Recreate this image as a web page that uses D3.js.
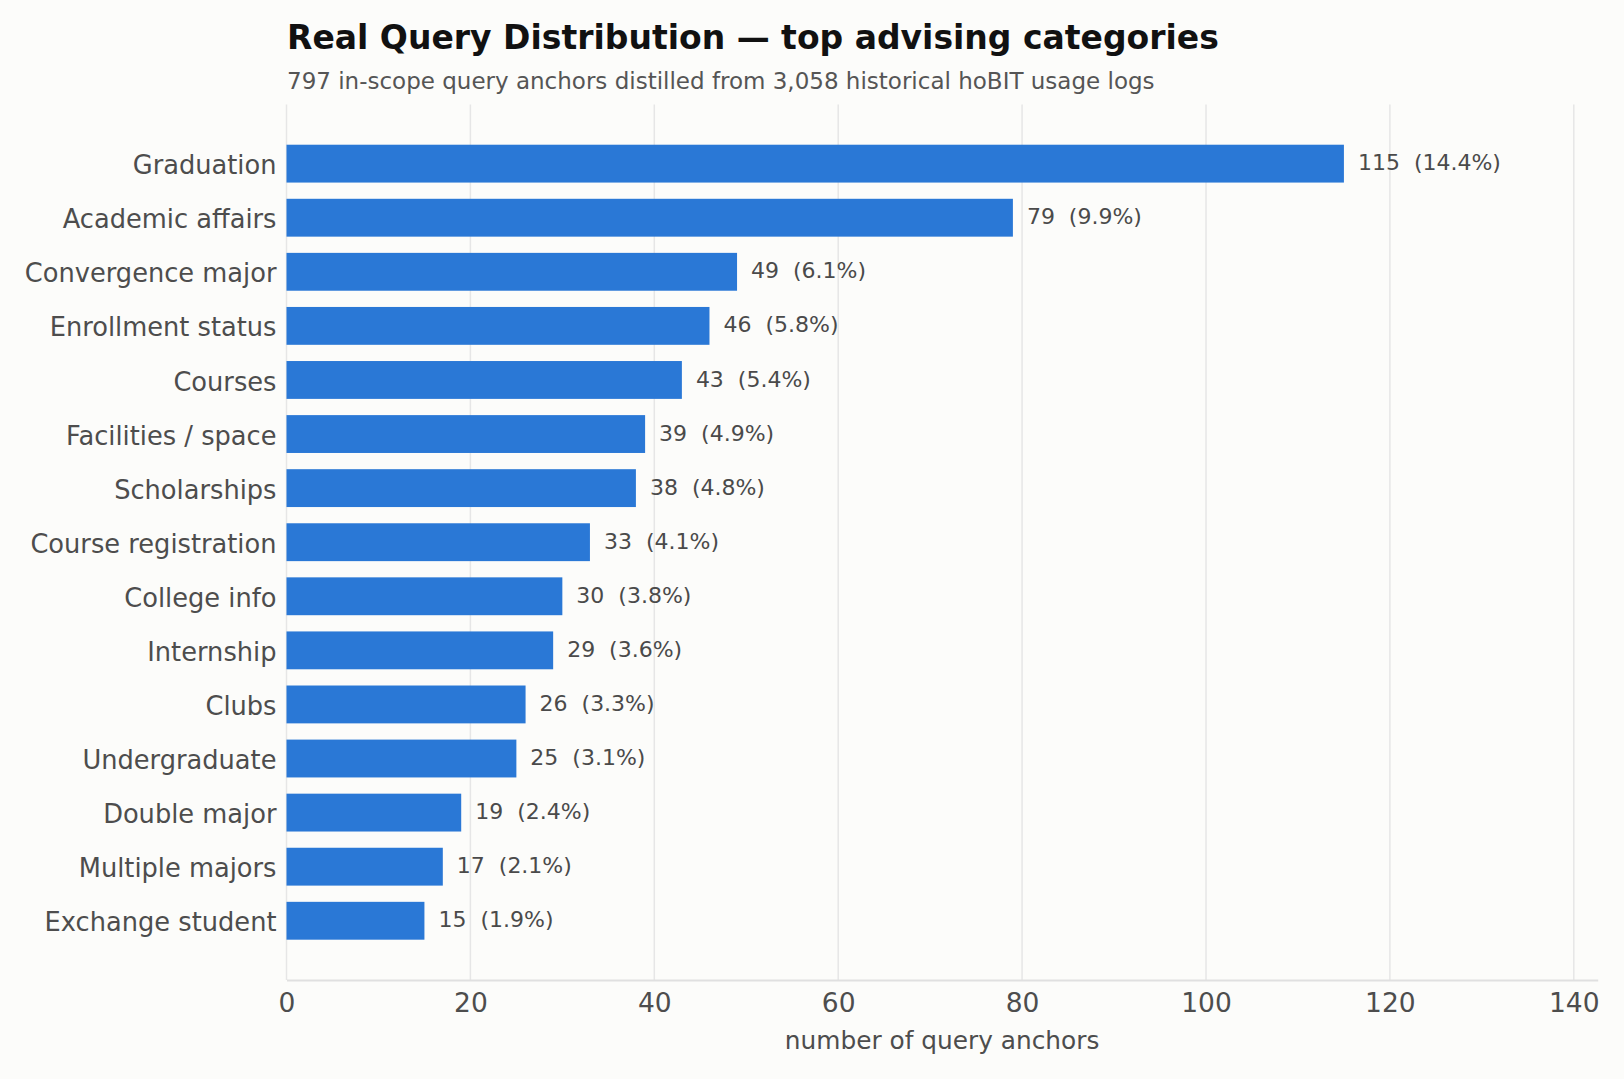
<!DOCTYPE html>
<html>
<head>
<meta charset="utf-8">
<script src="https://d3js.org/d3.v7.min.js"></script>
<title>Real Query Distribution</title>
<style>
  body { margin: 0; background: #fcfcfa; }
  svg { display: block; font-family: "DejaVu Sans", sans-serif; }
</style>
</head>
<body>
<script>

// data
var categories = ["Graduation", "Academic affairs", "Convergence major", "Enrollment status",
  "Courses", "Facilities / space", "Scholarships", "Course registration", "College info",
  "Internship", "Clubs", "Undergraduate", "Double major", "Multiple majors", "Exchange student"];
var counts = [115, 79, 49, 46, 43, 39, 38, 33, 30, 29, 26, 25, 19, 17, 15];
var shares = ["14.4", "9.9", "6.1", "5.8", "5.4", "4.9", "4.8", "4.1", "3.8", "3.6", "3.3", "3.1", "2.4", "2.1", "1.9"];
var xTicks = [0, 20, 40, 60, 80, 100, 120, 140];

var width = 1624,
    height = 1079;

var plot = { left: 286.5, right: 1597.7, top: 104.6, bottom: 980 };

var svg = d3.select("body")
  .append("svg")
  .attr("width", width)
  .attr("height", height);

svg.append("rect")
  .attr("width", width)
  .attr("height", height)
  .attr("fill", "#fcfcfa");

var x = d3.scaleLinear()
    .domain([0, 142.6])
    .range([plot.left, plot.right]);

var y = d3.scaleBand()
    .domain(categories)
    .range([136.6, 947.8])
    .paddingInner(0.3)
    .paddingOuter(0.15);

// vertical grid
svg.append("g")
  .selectAll("line")
  .data(xTicks)
  .enter()
  .append("line")
  .attr("x1", function(d) { return x(d); })
  .attr("x2", function(d) { return x(d); })
  .attr("y1", plot.top)
  .attr("y2", plot.bottom)
  .attr("stroke", "#e6e6e6")
  .attr("stroke-width", 1.5);

// bars
var rows = categories.map(function(c, i) {
  return { name: c, value: counts[i], share: shares[i] };
});

svg.append("g")
  .selectAll("rect")
  .data(rows)
  .enter()
  .append("rect")
  .attr("x", x(0))
  .attr("y", function(d) { return y(d.name); })
  .attr("width", function(d) { return x(d.value) - x(0); })
  .attr("height", y.bandwidth())
  .attr("fill", "#2a78d6");

// value labels
svg.append("g")
  .selectAll("text")
  .data(rows)
  .enter()
  .append("text")
  .attr("x", function(d) { return x(d.value) + 14; })
  .attr("y", function(d) { return y(d.name) + y.bandwidth() / 2; })
  .attr("dy", "0.3em")
  .attr("font-size", 22)
  .attr("fill", "#4a4a4a")
  .attr("xml:space", "preserve")
  .text(function(d) { return d.value + "  (" + d.share + "%)"; });

// x axis
var xAxis = svg.append("g")
  .attr("transform", "translate(0," + plot.bottom + ")")
  .call(d3.axisBottom(x).tickValues(xTicks).tickSize(0).tickPadding(13));

xAxis.select(".domain")
  .attr("stroke", "#e0e0e0")
  .attr("stroke-width", 2);
xAxis.selectAll("text")
  .attr("font-size", 26.5)
  .attr("font-family", "DejaVu Sans")
  .attr("fill", "#4d4d4d");

// y axis
var yAxis = svg.append("g")
  .attr("transform", "translate(" + plot.left + ",0)")
  .call(d3.axisLeft(y).tickSize(0).tickPadding(10));

yAxis.select(".domain").remove();
yAxis.selectAll("text")
  .attr("font-size", 25.7)
  .attr("font-family", "DejaVu Sans")
  .attr("dy", "0.41em")
  .attr("fill", "#4d4d4d");

// titles
svg.append("text")
  .attr("x", 287)
  .attr("y", 49)
  .attr("font-size", 33)
  .attr("font-weight", "bold")
  .attr("fill", "#111")
  .text("Real Query Distribution \u2014 top advising categories");

svg.append("text")
  .attr("x", 287)
  .attr("y", 89)
  .attr("font-size", 23)
  .attr("fill", "#555")
  .text("797 in-scope query anchors distilled from 3,058 historical hoBIT usage logs");

svg.append("text")
  .attr("x", (plot.left + plot.right) / 2)
  .attr("y", 1049)
  .attr("text-anchor", "middle")
  .attr("font-size", 24.8)
  .attr("fill", "#4d4d4d")
  .text("number of query anchors");

</script>
</body>
</html>
